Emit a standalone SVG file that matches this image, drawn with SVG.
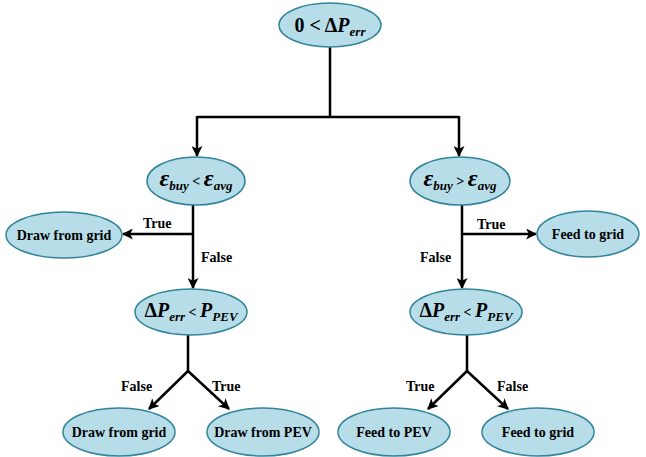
<svg xmlns="http://www.w3.org/2000/svg" width="646" height="457" viewBox="0 0 646 457" font-family="Liberation Serif, serif" font-weight="bold">
<defs>
<marker id="ah" viewBox="0 0 10 10" refX="9" refY="5" markerWidth="4.4" markerHeight="4.4" orient="auto" markerUnits="strokeWidth">
<path d="M0,0 L10,5 L0,10 L2.5,5 Z" fill="#000"/>
</marker>
<style>
.n ellipse{fill:#b7dde8;stroke:#31849b;stroke-width:1.5}
.t{font-size:14px;text-anchor:middle}
.m{font-size:20px;text-anchor:middle}
.i{font-style:italic}
.e{font-style:italic;font-size:24px}
.s{font-size:13px;font-style:italic}
.c path{fill:none;stroke:#000;stroke-width:2.5}
.l{font-size:14px}
</style>
</defs>
<rect width="646" height="457" fill="#fff"/>
<g class="c">
<path d="M330,47 V117 M197,117 H459"/>
<path d="M197,116 V156" marker-end="url(#ah)"/>
<path d="M459,116 V156" marker-end="url(#ah)"/>
<path d="M193,205 V288" marker-end="url(#ah)"/>
<path d="M194,234 H123" marker-end="url(#ah)"/>
<path d="M462,205 V288" marker-end="url(#ah)"/>
<path d="M461,234 H536" marker-end="url(#ah)"/>
<path d="M188,335 V371"/>
<path d="M188,371 L149,409" marker-end="url(#ah)"/>
<path d="M188,371 L229,409" marker-end="url(#ah)"/>
<path d="M467,335 V371"/>
<path d="M467,371 L428,409" marker-end="url(#ah)"/>
<path d="M467,371 L508,409" marker-end="url(#ah)"/>
</g>
<g id="root" class="n"><ellipse cx="330" cy="25" rx="51" ry="22"/>
<text class="m" x="330" y="32">0 &lt; Δ<tspan class="i">P</tspan><tspan class="s" dy="4">err</tspan></text></g>
<g id="c1" class="n"><ellipse cx="196" cy="181" rx="49" ry="24"/>
<text class="m" x="196" y="186"><tspan class="e">ε</tspan><tspan class="s" dy="4">buy</tspan><tspan font-size="14" dy="-4"> &lt; </tspan><tspan class="e">ε</tspan><tspan class="s" dy="4">avg</tspan></text></g>
<g id="c2" class="n"><ellipse cx="460" cy="181" rx="50" ry="24"/>
<text class="m" x="460" y="186"><tspan class="e">ε</tspan><tspan class="s" dy="4">buy</tspan><tspan font-size="14" dy="-4"> &gt; </tspan><tspan class="e">ε</tspan><tspan class="s" dy="4">avg</tspan></text></g>
<g id="d1" class="n"><ellipse cx="64" cy="235" rx="58" ry="23"/>
<text class="t" x="64" y="240">Draw from grid</text></g>
<g id="f1" class="n"><ellipse cx="588" cy="234" rx="51" ry="23"/>
<text class="t" x="588" y="239">Feed to grid</text></g>
<g id="p1" class="n"><ellipse cx="191" cy="312" rx="56" ry="23"/>
<text class="m" x="191" y="317">Δ<tspan class="i">P</tspan><tspan class="s" dy="4">err</tspan><tspan font-size="14" dy="-4"> &lt; </tspan><tspan class="i">P</tspan><tspan class="s" dy="4">PEV</tspan></text></g>
<g id="p2" class="n"><ellipse cx="466" cy="312" rx="56" ry="23"/>
<text class="m" x="466" y="317">Δ<tspan class="i">P</tspan><tspan class="s" dy="4">err</tspan><tspan font-size="14" dy="-4"> &lt; </tspan><tspan class="i">P</tspan><tspan class="s" dy="4">PEV</tspan></text></g>
<g id="b1" class="n"><ellipse cx="119" cy="432" rx="56" ry="24"/>
<text class="t" x="119" y="437">Draw from grid</text></g>
<g id="b2" class="n"><ellipse cx="263" cy="432" rx="56" ry="24"/>
<text class="t" x="263" y="437">Draw from PEV</text></g>
<g id="b3" class="n"><ellipse cx="394" cy="432" rx="56" ry="24"/>
<text class="t" x="394" y="437">Feed to PEV</text></g>
<g id="b4" class="n"><ellipse cx="538" cy="432" rx="56" ry="24"/>
<text class="t" x="538" y="437">Feed to grid</text></g>
<g id="labels">
<text class="l" x="143" y="228">True</text>
<text class="l" x="201" y="262">False</text>
<text class="l" x="477" y="229">True</text>
<text class="l" x="420" y="262">False</text>
<text class="l" x="121" y="391">False</text>
<text class="l" x="212" y="391">True</text>
<text class="l" x="406" y="391">True</text>
<text class="l" x="497" y="391">False</text>
</g>
</svg>
